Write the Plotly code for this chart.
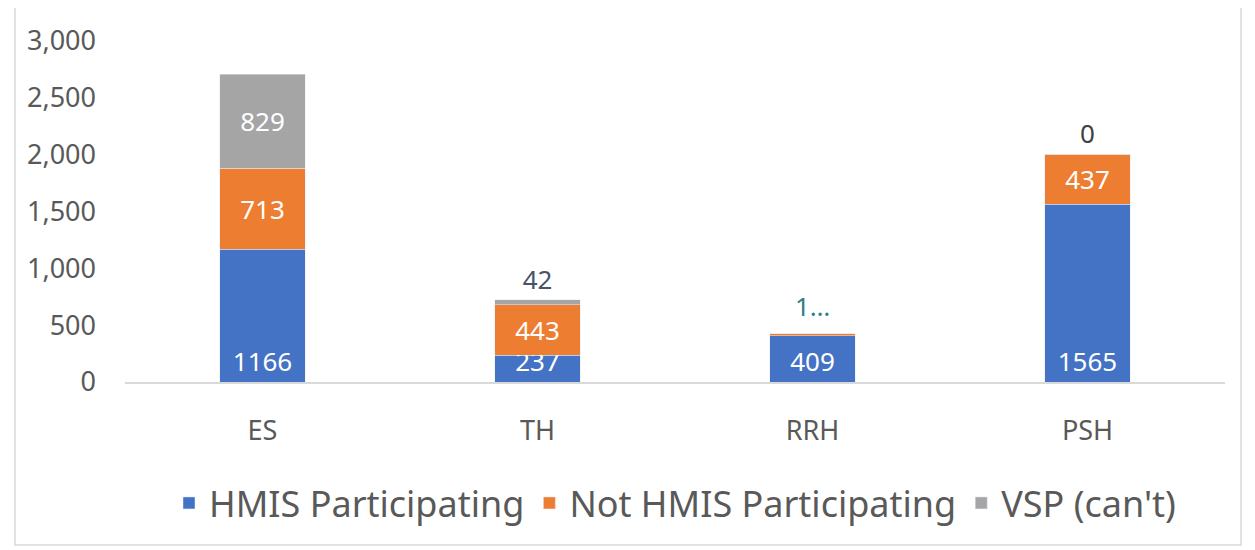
import plotly.graph_objects as go

categories = ["ES", "TH", "RRH", "PSH"]
hmis = [1166, 237, 409, 1565]
not_hmis = [713, 443, 15, 437]
vsp = [829, 42, 0, 0]
y_ticks = [0, 500, 1000, 1500, 2000, 2500, 3000]

FONT = "Noto Sans"
BLUE, ORANGE, GRAY = "#4472C4", "#ED7D31", "#A5A5A5"
LBL = 26

fig = go.Figure()
fig.add_trace(go.Bar(
    name="HMIS Participating", x=categories, y=hmis, marker_color=BLUE,
    text=[str(v) for v in hmis], textposition="inside", insidetextanchor="start",
    textfont=dict(color="white", size=LBL, family=FONT), constraintext="none",
))
fig.add_trace(go.Bar(
    name="Not HMIS Participating", x=categories, y=not_hmis, marker_color=ORANGE,
    text=[str(v) if v > 100 else "" for v in not_hmis], textposition="inside",
    insidetextanchor="middle",
    textfont=dict(color="white", size=LBL, family=FONT), constraintext="none",
))
fig.add_trace(go.Bar(
    name="VSP (can't)", x=categories, y=vsp, marker_color=GRAY,
    text=[str(v) for v in vsp],
    textposition=["inside", "outside", "none", "outside"],
    insidetextanchor="middle",
    insidetextfont=dict(color="white", size=LBL, family=FONT),
    outsidetextfont=dict(color=["#404040", "#44546A", "#404040", "#404040"], size=LBL, family=FONT),
    constraintext="none", cliponaxis=False,
))

# RRH small orange label shown above the bar (truncated as in the original)
i = categories.index("RRH")
fig.add_annotation(x=categories[i], y=hmis[i] + not_hmis[i] + vsp[i], text=str(not_hmis[i])[0] + "…",
                   showarrow=False, yanchor="bottom", yshift=8,
                   font=dict(color="#2E7F86", size=LBL, family=FONT))

fig.update_layout(
    barmode="stack", bargap=0.69,
    width=1247, height=542,
    margin=dict(l=117, r=30, t=33, b=168),
    paper_bgcolor="white", plot_bgcolor="white",
    font=dict(family=FONT, color="#595959"),
    showlegend=True,
    legend=dict(orientation="h", x=0.5, xanchor="center", y=-0.355, yanchor="middle",
                font=dict(size=36, color="#595959", family=FONT), itemwidth=30,
                traceorder="normal"),
    xaxis=dict(showline=True, linecolor="#D9D9D9", linewidth=1.5, ticks="",
               ticklabelstandoff=24,
               tickfont=dict(size=27, color="#595959"), showgrid=False),
    yaxis=dict(range=[0, 3000], tickvals=y_ticks, tickformat=",", showgrid=False,
               showline=False, zeroline=False, ticks="", ticklabelstandoff=28,
               tickfont=dict(size=27, color="#595959")),
    shapes=[dict(type="rect", xref="paper", yref="paper",
                 x0=(15 - 125) / 1100, x1=(1241 - 125) / 1100,
                 y0=(382 - 545) / 341, y1=(382 - 5) / 341,
                 line=dict(color="#D9D9D9", width=1.5), fillcolor="rgba(0,0,0,0)", layer="below")],
)

fig.write_html("out.html")
